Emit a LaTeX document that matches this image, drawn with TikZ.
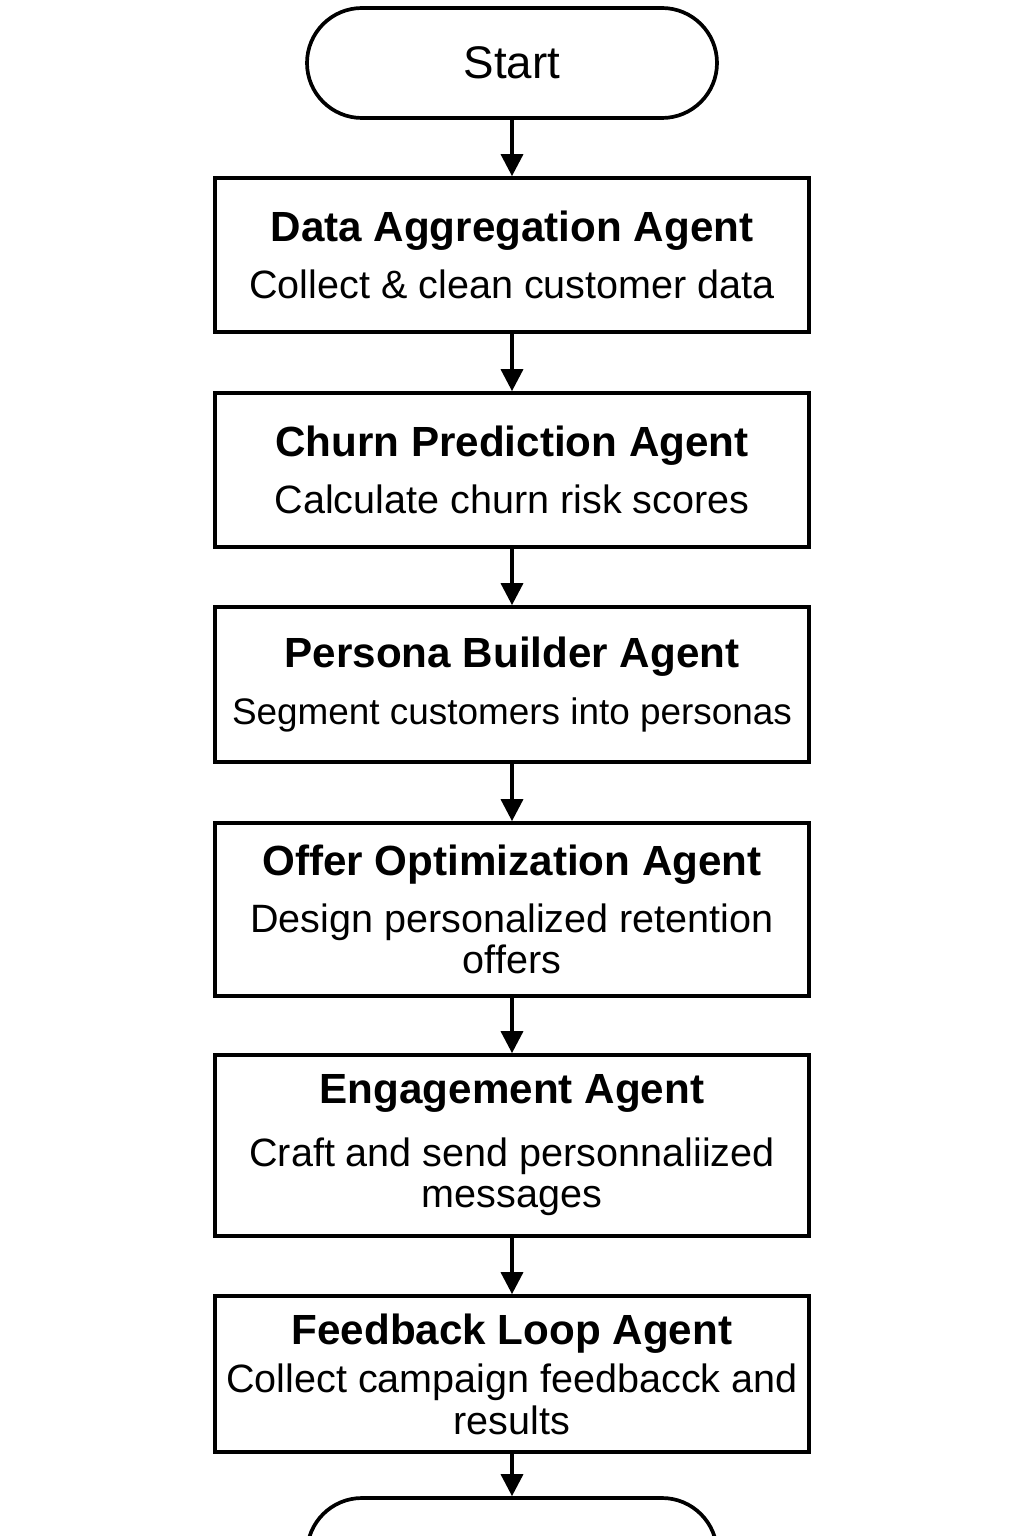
\documentclass[tikz,border=0pt]{standalone}
\usepackage{fontspec}
\setmainfont{Liberation Sans}
\usetikzlibrary{positioning, arrows.meta}

\begin{document}
\begin{tikzpicture}[
  terminal/.style={
    draw=black, line width=2.1pt, rounded corners=1.1cm,
    minimum width=8.2cm, minimum height=2.2cm,
    font=\fontsize{26}{30}\selectfont
  },
  agent/.style={
    draw=black, line width=2.1pt, minimum width=11.88cm,
    align=center, inner sep=0pt,
    font=\fontsize{22.5}{23.6}\selectfont
  },
  flowarrow/.style={-{Triangle[width=12.5pt, length=12.5pt]}, line width=2pt},
]

\useasboundingbox (0,0) rectangle (20.48,-30.72);
\clip (0,0) rectangle (20.48,-30.72);

% Terminals and agent boxes, top to bottom
\node[terminal] (start) at (10.24,-1.26) {Start};

\node[agent, minimum height=3.08cm] (data) at (10.24,-5.10)
  {{\bfseries\fontsize{24}{23.6}\selectfont Data Aggregation Agent}\\[9pt]
   Collect \& clean customer data};
\node[agent, minimum height=3.08cm] (churn) at (10.24,-9.40)
  {{\bfseries\fontsize{24}{23.6}\selectfont Churn Prediction Agent}\\[9pt]
   Calculate churn risk scores};
\node[agent, minimum height=3.10cm] (persona) at (10.24,-13.69)
  {{\bfseries\fontsize{24}{23.6}\selectfont Persona Builder Agent}\\[9pt]
   {\fontsize{21}{23.6}\selectfont Segment customers into personas}};
\node[agent, minimum height=3.46cm] (offer) at (10.24,-18.19)
  {{\bfseries\fontsize{24}{23.6}\selectfont Offer Optimization Agent}\\[9pt]
   Design personalized retention\\ offers};
\node[agent, minimum height=3.62cm] (engage) at (10.24,-22.91)
  {{\bfseries\fontsize{24}{23.6}\selectfont Engagement Agent}\\[12pt]
   Craft and send personnaliized\\ messages};
\node[agent, minimum height=3.12cm] (feedback) at (10.24,-27.48)
  {{\bfseries\fontsize{24}{23.6}\selectfont Feedback Loop Agent}\\[4pt]
   Collect campaign feedbacck and\\ results};

\node[terminal] (finish) at (10.24,-31.06) {};

% Connectors
\draw[flowarrow] (start) -- (data);
\draw[flowarrow] (data) -- (churn);
\draw[flowarrow] (churn) -- (persona);
\draw[flowarrow] (persona) -- (offer);
\draw[flowarrow] (offer) -- (engage);
\draw[flowarrow] (engage) -- (feedback);
\draw[flowarrow] (feedback) -- (finish);

\end{tikzpicture}
\end{document}
